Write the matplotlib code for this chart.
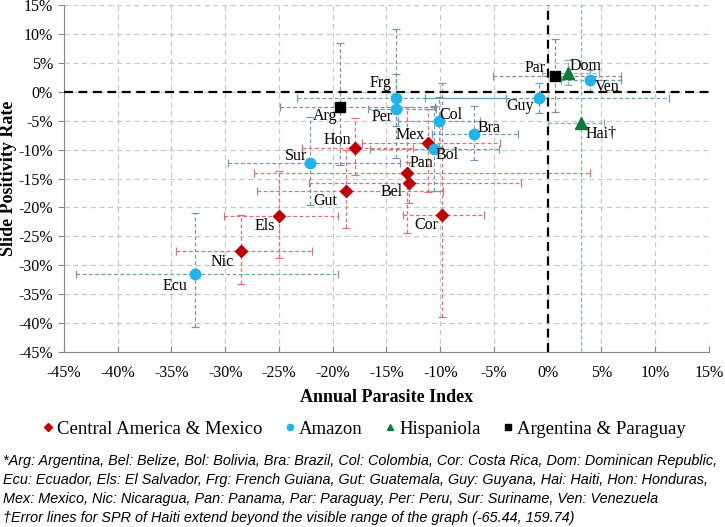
import matplotlib
matplotlib.use("Agg")
import matplotlib.pyplot as plt
from matplotlib.ticker import FuncFormatter, MultipleLocator

# values in percent: point, then low / high ends of the error lines
# Central America & Mexico
cam_names = ["Hon", "Mex", "Pan", "Bel", "Gut", "Cor", "Els", "Nic"]
cam_x = [-17.9, -11.1, -13.1, -12.9, -18.8, -9.8, -25.0, -28.5]
cam_y = [-9.7, -8.9, -14.1, -15.7, -17.1, -21.3, -21.4, -27.5]
cam_xlo = [-22.9, -17.3, -27.3, -22.2, -27.0, -13.5, -30.1, -34.6]
cam_xhi = [-12.5, -4.4, 3.9, -2.5, -9.7, -5.9, -19.5, -21.9]
cam_ylo = [-14.4, -17.3, -24.4, -19.2, -23.6, -38.9, -28.7, -33.2]
cam_yhi = [-4.6, -3.0, -2.6, -12.2, -10.1, 1.5, -13.7, -21.3]

# Amazon
ama_names = ["Ecu", "Sur", "Frg", "Per", "Col", "Bra", "Bol", "Guy", "Ven"]
ama_x = [-32.8, -22.1, -14.1, -14.1, -10.1, -6.9, -10.6, -0.8, 3.9]
ama_y = [-31.5, -12.3, -1.0, -3.0, -5.0, -7.3, -9.9, -1.0, 2.1]
ama_xlo = [-43.9, -29.7, -23.3, -16.7, -13.9, -10.8, -16.5, -11.4, 1.2]
ama_xhi = [-19.5, -13.7, -3.9, -10.4, -6.3, -2.8, -4.5, 11.3, 6.8]
ama_ylo = [-40.7, -19.6, -6.0, -11.5, -9.5, -11.8, -17.1, -3.7, 0.0]
ama_yhi = [-20.9, -4.4, 10.9, 3.0, -0.9, -2.5, -2.5, 1.6, 3.8]

# Hispaniola
his_names = ["Dom", "Hai\u2020"]
his_x = [1.9, 3.1]
his_y = [3.2, -5.4]
his_xlo = [-0.5, 0.0]
his_xhi = [4.8, 5.2]
his_ylo = [1.2, -65.44]
his_yhi = [5.5, 159.74]

# Argentina & Paraguay
ap_names = ["Arg", "Par"]
ap_x = [-19.3, 0.7]
ap_y = [-2.7, 2.7]
ap_xlo = [-24.9, -5.1]
ap_xhi = [-10.5, 6.8]
ap_ylo = [-12.6, -3.5]
ap_yhi = [8.5, 9.1]

# label offsets in pixels (dx, dy), y up
label_off = {
    "Hon": (-18, 8), "Mex": (-18, 8), "Pan": (15, 10), "Bel": (-17, -9),
    "Gut": (-20, -10), "Cor": (-16, -10), "Els": (-14, -10), "Nic": (-19, -11),
    "Ecu": (-20, -12), "Sur": (-14, 7), "Frg": (-16, 15), "Per": (-14, -8),
    "Col": (12, 6), "Bra": (16, 6), "Bol": (13, -6), "Guy": (-19, -8),
    "Ven": (18, -7), "Dom": (17, 7), "Hai\u2020": (20, -11),
    "Arg": (-15, -9), "Par": (-20, 8),
}

footnote = [
    "*Arg: Argentina, Bel: Belize, Bol: Bolivia, Bra: Brazil, Col: Colombia, Cor: Costa Rica, Dom: Dominican Republic,",
    "Ecu: Ecuador, Els: El Salvador, Frg: French Guiana, Gut: Guatemala, Guy: Guyana, Hai: Haiti, Hon: Honduras,",
    "Mex: Mexico, Nic: Nicaragua, Pan: Panama, Par: Paraguay, Per: Peru, Sur: Suriname, Ven: Venezuela",
    "\u2020Error lines for SPR of Haiti extend beyond the visible range of the graph (-65.44, 159.74)",
]

serif = ["Liberation Serif", "DejaVu Serif"]
plt.rcParams["font.family"] = serif

fig = plt.figure(figsize=(7.25, 5.27), dpi=100)
ax = fig.add_axes([0.0883, 0.332, 0.8895, 0.6585])

groups = [
    ("Central America & Mexico", cam_names, cam_x, cam_y, cam_xlo, cam_xhi, cam_ylo, cam_yhi,
     "D", "#C00000", "#E07070", 6.5),
    ("Amazon", ama_names, ama_x, ama_y, ama_xlo, ama_xhi, ama_ylo, ama_yhi,
     "o", "#1EB4EC", "#6C9CB4", 7.5),
    ("Hispaniola", his_names, his_x, his_y, his_xlo, his_xhi, his_ylo, his_yhi,
     "^", "#0E7A3A", "#7BBE98", 8),
    ("Argentina & Paraguay", ap_names, ap_x, ap_y, ap_xlo, ap_xhi, ap_ylo, ap_yhi,
     "s", "#000000", "#8C8C8C", 6.5),
]

for label, names, xs, ys, xlo, xhi, ylo, yhi, mk, mc, ec, ms in groups:
    xerr = [[x - lo for x, lo in zip(xs, xlo)], [hi - x for x, hi in zip(xs, xhi)]]
    yerr = [[y - lo for y, lo in zip(ys, ylo)], [hi - y for y, hi in zip(ys, yhi)]]
    eb = ax.errorbar(xs, ys, xerr=xerr, yerr=yerr, fmt="none", ecolor=ec,
                     elinewidth=0.9, capsize=3, capthick=0.9, zorder=3)
    for lc in eb[2]:
        lc.set_linestyle((0, (3, 2)))
    ax.plot(xs, ys, linestyle="none", marker=mk, color=mc, markersize=ms,
            label=label, zorder=5)
    for n, x, y in zip(names, xs, ys):
        dx, dy = label_off[n]
        ax.annotate(n, (x, y), xytext=(dx, dy), textcoords="offset pixels",
                    ha="center", va="center", fontsize=11.5, zorder=6)

ax.axhline(0, color="black", linestyle=(0, (4, 2.5)), linewidth=1.6, zorder=4)
ax.axvline(0, color="black", linestyle=(0, (4, 2.5)), linewidth=1.6, zorder=4)

ax.set_xlim(-45, 15)
ax.set_ylim(-45, 15)
ax.xaxis.set_major_locator(MultipleLocator(5))
ax.yaxis.set_major_locator(MultipleLocator(5))
pct = FuncFormatter(lambda v, p: f"{v:.0f}%")
ax.xaxis.set_major_formatter(pct)
ax.yaxis.set_major_formatter(pct)
ax.grid(True, color="#C8C8C8", linestyle=(0, (4, 3)), linewidth=0.9, zorder=0)
ax.set_axisbelow(True)

for s in ["top", "right"]:
    ax.spines[s].set_visible(False)
for s in ["left", "bottom"]:
    ax.spines[s].set_color("#888888")
ax.tick_params(axis="x", direction="in", length=4, color="#888888", labelsize=11.5, pad=9)
ax.tick_params(axis="y", direction="out", length=4, color="#888888", labelsize=11.5, pad=4)

ax.set_xlabel("Annual Parasite Index", fontsize=13, fontweight="bold", labelpad=6)
ax.set_ylabel("Slide Positivity Rate", fontsize=13, fontweight="bold", labelpad=1)

fig.legend(loc="center", bbox_to_anchor=(0.503, 0.186), ncol=4, frameon=False,
           fontsize=13.5, markerscale=0.6, handlelength=0.5, handletextpad=0.25,
           columnspacing=1.2)

narrow = ["Liberation Sans Narrow", "Liberation Sans", "DejaVu Sans"]
for i, line in enumerate(footnote):
    fig.text(0.004, 1 - (461 + i * 19) / 527, line, family=narrow, style="italic",
             fontsize=10.4, ha="left", va="center")

fig.savefig("out.png", dpi=100)
